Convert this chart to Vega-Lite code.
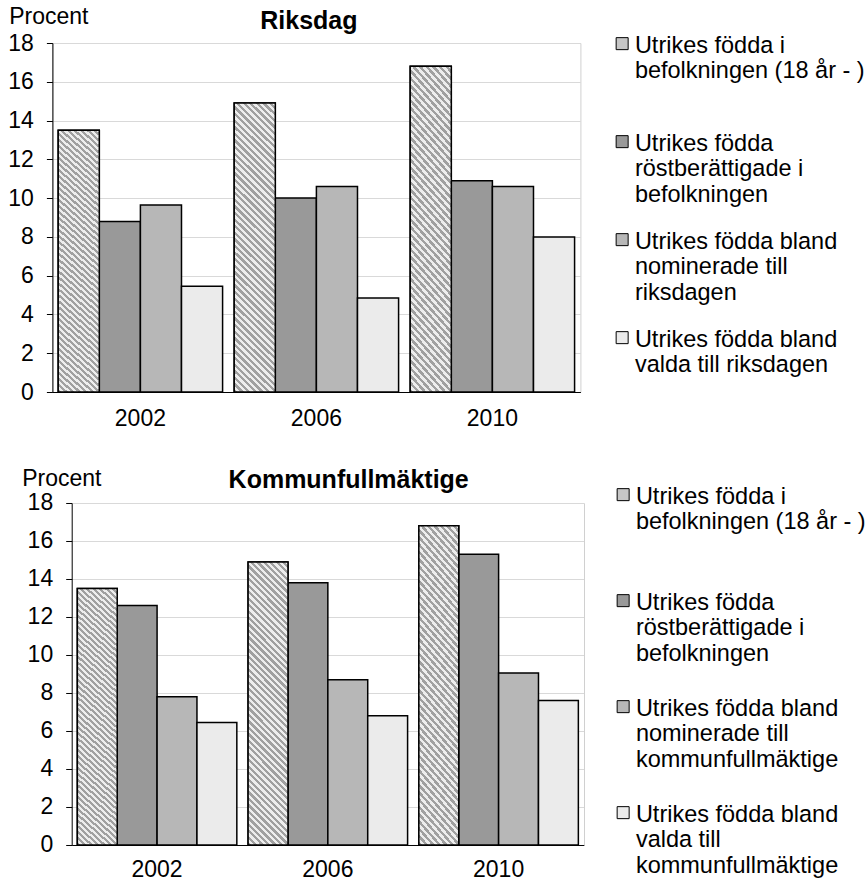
{
  "$schema": "https://vega.github.io/schema/vega-lite/v6.json",
  "padding": {"left": 6.4, "top": 5, "right": 0, "bottom": 0},
  "spacing": 36,
  "datasets": {
    "riksdag": [
      {"year": "2002", "serie": "Utrikes födda i befolkningen (18 år - )", "procent": 13.5},
      {"year": "2002", "serie": "Utrikes födda röstberättigade i befolkningen", "procent": 8.8},
      {"year": "2002", "serie": "Utrikes födda bland nominerade till riksdagen", "procent": 9.65},
      {"year": "2002", "serie": "Utrikes födda bland valda till riksdagen", "procent": 5.45},
      {"year": "2006", "serie": "Utrikes födda i befolkningen (18 år - )", "procent": 14.9},
      {"year": "2006", "serie": "Utrikes födda röstberättigade i befolkningen", "procent": 10.0},
      {"year": "2006", "serie": "Utrikes födda bland nominerade till riksdagen", "procent": 10.6},
      {"year": "2006", "serie": "Utrikes födda bland valda till riksdagen", "procent": 4.85},
      {"year": "2010", "serie": "Utrikes födda i befolkningen (18 år - )", "procent": 16.8},
      {"year": "2010", "serie": "Utrikes födda röstberättigade i befolkningen", "procent": 10.9},
      {"year": "2010", "serie": "Utrikes födda bland nominerade till riksdagen", "procent": 10.6},
      {"year": "2010", "serie": "Utrikes födda bland valda till riksdagen", "procent": 8.0}
    ],
    "kommun": [
      {"year": "2002", "serie": "Utrikes födda i befolkningen (18 år - )", "procent": 13.5},
      {"year": "2002", "serie": "Utrikes födda röstberättigade i befolkningen", "procent": 12.6},
      {"year": "2002", "serie": "Utrikes födda bland nominerade till kommunfullmäktige", "procent": 7.8},
      {"year": "2002", "serie": "Utrikes födda bland valda till kommunfullmäktige", "procent": 6.45},
      {"year": "2006", "serie": "Utrikes födda i befolkningen (18 år - )", "procent": 14.9},
      {"year": "2006", "serie": "Utrikes födda röstberättigade i befolkningen", "procent": 13.8},
      {"year": "2006", "serie": "Utrikes födda bland nominerade till kommunfullmäktige", "procent": 8.7},
      {"year": "2006", "serie": "Utrikes födda bland valda till kommunfullmäktige", "procent": 6.8},
      {"year": "2010", "serie": "Utrikes födda i befolkningen (18 år - )", "procent": 16.8},
      {"year": "2010", "serie": "Utrikes födda röstberättigade i befolkningen", "procent": 15.3},
      {"year": "2010", "serie": "Utrikes födda bland nominerade till kommunfullmäktige", "procent": 9.05},
      {"year": "2010", "serie": "Utrikes födda bland valda till kommunfullmäktige", "procent": 7.6}
    ]
  },
  "vconcat": [
    {
      "width": 528,
      "height": 349,
      "title": {"text": "Riksdag", "frame": "group", "anchor": "middle", "dx": -7.5, "offset": -28},
      "data": {"name": "riksdag"},
      "encoding": {
        "x": {"field": "year", "type": "nominal", "scale": {"paddingInner": 0.066, "paddingOuter": 0.033},
              "axis": {"title": null, "labelAngle": 0, "ticks": false, "labelPadding": 15}},
        "xOffset": {"field": "serie", "type": "nominal", "sort": null,
                    "scale": {"domain": ["Utrikes födda i befolkningen (18 år - )", "Utrikes födda röstberättigade i befolkningen", "Utrikes födda bland nominerade till riksdagen", "Utrikes födda bland valda till riksdagen"], "paddingInner": 0, "paddingOuter": 0}},
        "y": {"field": "procent", "type": "quantitative", "stack": null, "scale": {"domain": [0, 18], "nice": false},
              "axis": {"title": "Procent", "titleAngle": 0, "titleAlign": "left", "titleBaseline": "middle", "titleX": -43.7, "titleY": -26.5,
                       "values": [0, 2, 4, 6, 8, 10, 12, 14, 16, 18], "tickSize": 6, "labelPadding": 13}}
      },
      "layer": [
        {
          "mark": {"type": "bar", "stroke": "#000000", "strokeWidth": 1.5},
          "encoding": {
            "color": {"field": "serie", "type": "nominal",
                      "scale": {"domain": ["Utrikes födda i befolkningen (18 år - )", "Utrikes födda röstberättigade i befolkningen", "Utrikes födda bland nominerade till riksdagen", "Utrikes födda bland valda till riksdagen"],
                                "range": ["#c6c6c6", "#999999", "#b7b7b7", "#ebebeb"]},
                      "legend": {"title": null, "orient": "none", "legendX": 558, "legendY": -21, "rowPadding": 11,
                                 "labelExpr": "datum.label == 'Utrikes födda i befolkningen (18 år - )' ? ['Utrikes födda i', 'befolkningen (18 år - )'] : datum.label == 'Utrikes födda röstberättigade i befolkningen' ? ['Utrikes födda', 'röstberättigade i', 'befolkningen'] : datum.label == 'Utrikes födda bland nominerade till riksdagen' ? ['Utrikes födda bland', 'nominerade till', 'riksdagen'] : ['Utrikes födda bland', 'valda till riksdagen']"}}
          }
        },
        {
          "transform": [{"filter": {"field": "serie", "equal": "Utrikes födda i befolkningen (18 år - )"}}],
          "mark": {"type": "bar", "stroke": "#000000", "strokeWidth": 1.5}
        }
      ]
    },
    {
      "width": 531.6,
      "height": 342,
      "view": {"stroke": null},
      "title": {"text": "Kommunfullmäktige", "frame": "group", "anchor": "middle", "dx": 30.5, "offset": -26},
      "data": {"name": "kommun"},
      "encoding": {
        "x": {"field": "year", "type": "nominal", "scale": {"range": [19.3, 531.6], "paddingInner": 0.066, "paddingOuter": 0.033},
              "axis": {"title": null, "labelAngle": 0, "ticks": false, "labelPadding": 14}},
        "xOffset": {"field": "serie", "type": "nominal", "sort": null,
                    "scale": {"domain": ["Utrikes födda i befolkningen (18 år - )", "Utrikes födda röstberättigade i befolkningen", "Utrikes födda bland nominerade till kommunfullmäktige", "Utrikes födda bland valda till kommunfullmäktige"], "paddingInner": 0, "paddingOuter": 0}},
        "y": {"field": "procent", "type": "quantitative", "stack": null, "scale": {"domain": [0, 18], "nice": false},
              "axis": {"title": "Procent", "offset": -19.3, "titleAngle": 0, "titleAlign": "left", "titleBaseline": "middle", "titleX": -50, "titleY": -24.5,
                       "values": [0, 2, 4, 6, 8, 10, 12, 14, 16, 18], "tickSize": 6, "labelPadding": 13}}
      },
      "layer": [
        {
          "mark": {"type": "bar", "stroke": "#000000", "strokeWidth": 1.5},
          "encoding": {
            "color": {"field": "serie", "type": "nominal",
                      "scale": {"domain": ["Utrikes födda i befolkningen (18 år - )", "Utrikes födda röstberättigade i befolkningen", "Utrikes födda bland nominerade till kommunfullmäktige", "Utrikes födda bland valda till kommunfullmäktige"],
                                "range": ["#c6c6c6", "#999999", "#b7b7b7", "#ebebeb"]},
                      "legend": {"title": null, "orient": "none", "legendX": 559, "legendY": -30, "rowPadding": 19,
                                 "labelExpr": "datum.label == 'Utrikes födda i befolkningen (18 år - )' ? ['Utrikes födda i', 'befolkningen (18 år - )'] : datum.label == 'Utrikes födda röstberättigade i befolkningen' ? ['Utrikes födda', 'röstberättigade i', 'befolkningen'] : datum.label == 'Utrikes födda bland nominerade till kommunfullmäktige' ? ['Utrikes födda bland', 'nominerade till', 'kommunfullmäktige'] : ['Utrikes födda bland', 'valda till', 'kommunfullmäktige']"}}
          }
        },
        {
          "transform": [{"filter": {"field": "serie", "equal": "Utrikes födda i befolkningen (18 år - )"}}],
          "mark": {"type": "bar", "stroke": "#000000", "strokeWidth": 1.5},
          "encoding": {
            "y": {"field": "procent", "type": "quantitative", "stack": null, "scale": {"domain": [0, 18], "nice": false},
                  "axis": {"orient": "right", "title": null, "labels": false, "ticks": false, "grid": false, "domainColor": "#d0d0d0"}}
          }
        }
      ],
      "resolve": {"axis": {"y": "independent"}}
    }
  ],
  "resolve": {"scale": {"x": "independent", "xOffset": "independent", "y": "independent", "color": "independent"}, "legend": {"color": "independent"}},
  "config": {
    "font": "Liberation Sans",
    "view": {"stroke": "#d0d0d0", "strokeWidth": 1},
    "axis": {"labelFont": "Liberation Sans", "labelFontSize": 23, "labelColor": "#000000", "titleFont": "Liberation Sans", "titleFontSize": 23, "titleFontWeight": "normal", "titleColor": "#000000", "domainColor": "#000000", "domainWidth": 1, "tickColor": "#000000", "gridColor": "#d9d9d9"},
    "title": {"font": "Liberation Sans", "fontSize": 25, "fontWeight": "bold", "color": "#000000"},
    "legend": {"labelFont": "Liberation Sans", "labelFontSize": 23.5, "labelColor": "#000000", "labelBaseline": "top", "labelLimit": 400, "labelOffset": 1, "padding": 0, "gridAlign": "all", "symbolType": "M-1,0.65H1V2.65H-1Z", "symbolSize": 144, "symbolStrokeColor": "#000000", "symbolStrokeWidth": 1, "symbolOpacity": 1},
    "bar": {"fill": {"gradient": "linear", "x1": 0, "y1": 1, "x2": 0.158, "y2": -0.119, "stops": [
      {"offset": 0, "color": "#a0a0a0"},
      {"offset": 0.01, "color": "#a0a0a0"}, {"offset": 0.01, "color": "#ededed"},
      {"offset": 0.02, "color": "#ededed"}, {"offset": 0.02, "color": "#a0a0a0"},
      {"offset": 0.03, "color": "#a0a0a0"}, {"offset": 0.03, "color": "#ededed"},
      {"offset": 0.04, "color": "#ededed"}, {"offset": 0.04, "color": "#a0a0a0"},
      {"offset": 0.05, "color": "#a0a0a0"}, {"offset": 0.05, "color": "#ededed"},
      {"offset": 0.06, "color": "#ededed"}, {"offset": 0.06, "color": "#a0a0a0"},
      {"offset": 0.07, "color": "#a0a0a0"}, {"offset": 0.07, "color": "#ededed"},
      {"offset": 0.08, "color": "#ededed"}, {"offset": 0.08, "color": "#a0a0a0"},
      {"offset": 0.09, "color": "#a0a0a0"}, {"offset": 0.09, "color": "#ededed"},
      {"offset": 0.10, "color": "#ededed"}, {"offset": 0.10, "color": "#a0a0a0"},
      {"offset": 0.11, "color": "#a0a0a0"}, {"offset": 0.11, "color": "#ededed"},
      {"offset": 0.12, "color": "#ededed"}, {"offset": 0.12, "color": "#a0a0a0"},
      {"offset": 0.13, "color": "#a0a0a0"}, {"offset": 0.13, "color": "#ededed"},
      {"offset": 0.14, "color": "#ededed"}, {"offset": 0.14, "color": "#a0a0a0"},
      {"offset": 0.15, "color": "#a0a0a0"}, {"offset": 0.15, "color": "#ededed"},
      {"offset": 0.16, "color": "#ededed"}, {"offset": 0.16, "color": "#a0a0a0"},
      {"offset": 0.17, "color": "#a0a0a0"}, {"offset": 0.17, "color": "#ededed"},
      {"offset": 0.18, "color": "#ededed"}, {"offset": 0.18, "color": "#a0a0a0"},
      {"offset": 0.19, "color": "#a0a0a0"}, {"offset": 0.19, "color": "#ededed"},
      {"offset": 0.20, "color": "#ededed"}, {"offset": 0.20, "color": "#a0a0a0"},
      {"offset": 0.21, "color": "#a0a0a0"}, {"offset": 0.21, "color": "#ededed"},
      {"offset": 0.22, "color": "#ededed"}, {"offset": 0.22, "color": "#a0a0a0"},
      {"offset": 0.23, "color": "#a0a0a0"}, {"offset": 0.23, "color": "#ededed"},
      {"offset": 0.24, "color": "#ededed"}, {"offset": 0.24, "color": "#a0a0a0"},
      {"offset": 0.25, "color": "#a0a0a0"}, {"offset": 0.25, "color": "#ededed"},
      {"offset": 0.26, "color": "#ededed"}, {"offset": 0.26, "color": "#a0a0a0"},
      {"offset": 0.27, "color": "#a0a0a0"}, {"offset": 0.27, "color": "#ededed"},
      {"offset": 0.28, "color": "#ededed"}, {"offset": 0.28, "color": "#a0a0a0"},
      {"offset": 0.29, "color": "#a0a0a0"}, {"offset": 0.29, "color": "#ededed"},
      {"offset": 0.30, "color": "#ededed"}, {"offset": 0.30, "color": "#a0a0a0"},
      {"offset": 0.31, "color": "#a0a0a0"}, {"offset": 0.31, "color": "#ededed"},
      {"offset": 0.32, "color": "#ededed"}, {"offset": 0.32, "color": "#a0a0a0"},
      {"offset": 0.33, "color": "#a0a0a0"}, {"offset": 0.33, "color": "#ededed"},
      {"offset": 0.34, "color": "#ededed"}, {"offset": 0.34, "color": "#a0a0a0"},
      {"offset": 0.35, "color": "#a0a0a0"}, {"offset": 0.35, "color": "#ededed"},
      {"offset": 0.36, "color": "#ededed"}, {"offset": 0.36, "color": "#a0a0a0"},
      {"offset": 0.37, "color": "#a0a0a0"}, {"offset": 0.37, "color": "#ededed"},
      {"offset": 0.38, "color": "#ededed"}, {"offset": 0.38, "color": "#a0a0a0"},
      {"offset": 0.39, "color": "#a0a0a0"}, {"offset": 0.39, "color": "#ededed"},
      {"offset": 0.40, "color": "#ededed"}, {"offset": 0.40, "color": "#a0a0a0"},
      {"offset": 0.41, "color": "#a0a0a0"}, {"offset": 0.41, "color": "#ededed"},
      {"offset": 0.42, "color": "#ededed"}, {"offset": 0.42, "color": "#a0a0a0"},
      {"offset": 0.43, "color": "#a0a0a0"}, {"offset": 0.43, "color": "#ededed"},
      {"offset": 0.44, "color": "#ededed"}, {"offset": 0.44, "color": "#a0a0a0"},
      {"offset": 0.45, "color": "#a0a0a0"}, {"offset": 0.45, "color": "#ededed"},
      {"offset": 0.46, "color": "#ededed"}, {"offset": 0.46, "color": "#a0a0a0"},
      {"offset": 0.47, "color": "#a0a0a0"}, {"offset": 0.47, "color": "#ededed"},
      {"offset": 0.48, "color": "#ededed"}, {"offset": 0.48, "color": "#a0a0a0"},
      {"offset": 0.49, "color": "#a0a0a0"}, {"offset": 0.49, "color": "#ededed"},
      {"offset": 0.50, "color": "#ededed"}, {"offset": 0.50, "color": "#a0a0a0"},
      {"offset": 0.51, "color": "#a0a0a0"}, {"offset": 0.51, "color": "#ededed"},
      {"offset": 0.52, "color": "#ededed"}, {"offset": 0.52, "color": "#a0a0a0"},
      {"offset": 0.53, "color": "#a0a0a0"}, {"offset": 0.53, "color": "#ededed"},
      {"offset": 0.54, "color": "#ededed"}, {"offset": 0.54, "color": "#a0a0a0"},
      {"offset": 0.55, "color": "#a0a0a0"}, {"offset": 0.55, "color": "#ededed"},
      {"offset": 0.56, "color": "#ededed"}, {"offset": 0.56, "color": "#a0a0a0"},
      {"offset": 0.57, "color": "#a0a0a0"}, {"offset": 0.57, "color": "#ededed"},
      {"offset": 0.58, "color": "#ededed"}, {"offset": 0.58, "color": "#a0a0a0"},
      {"offset": 0.59, "color": "#a0a0a0"}, {"offset": 0.59, "color": "#ededed"},
      {"offset": 0.60, "color": "#ededed"}, {"offset": 0.60, "color": "#a0a0a0"},
      {"offset": 0.61, "color": "#a0a0a0"}, {"offset": 0.61, "color": "#ededed"},
      {"offset": 0.62, "color": "#ededed"}, {"offset": 0.62, "color": "#a0a0a0"},
      {"offset": 0.63, "color": "#a0a0a0"}, {"offset": 0.63, "color": "#ededed"},
      {"offset": 0.64, "color": "#ededed"}, {"offset": 0.64, "color": "#a0a0a0"},
      {"offset": 0.65, "color": "#a0a0a0"}, {"offset": 0.65, "color": "#ededed"},
      {"offset": 0.66, "color": "#ededed"}, {"offset": 0.66, "color": "#a0a0a0"},
      {"offset": 0.67, "color": "#a0a0a0"}, {"offset": 0.67, "color": "#ededed"},
      {"offset": 0.68, "color": "#ededed"}, {"offset": 0.68, "color": "#a0a0a0"},
      {"offset": 0.69, "color": "#a0a0a0"}, {"offset": 0.69, "color": "#ededed"},
      {"offset": 0.70, "color": "#ededed"}, {"offset": 0.70, "color": "#a0a0a0"},
      {"offset": 0.71, "color": "#a0a0a0"}, {"offset": 0.71, "color": "#ededed"},
      {"offset": 0.72, "color": "#ededed"}, {"offset": 0.72, "color": "#a0a0a0"},
      {"offset": 0.73, "color": "#a0a0a0"}, {"offset": 0.73, "color": "#ededed"},
      {"offset": 0.74, "color": "#ededed"}, {"offset": 0.74, "color": "#a0a0a0"},
      {"offset": 0.75, "color": "#a0a0a0"}, {"offset": 0.75, "color": "#ededed"},
      {"offset": 0.76, "color": "#ededed"}, {"offset": 0.76, "color": "#a0a0a0"},
      {"offset": 0.77, "color": "#a0a0a0"}, {"offset": 0.77, "color": "#ededed"},
      {"offset": 0.78, "color": "#ededed"}, {"offset": 0.78, "color": "#a0a0a0"},
      {"offset": 0.79, "color": "#a0a0a0"}, {"offset": 0.79, "color": "#ededed"},
      {"offset": 0.80, "color": "#ededed"}, {"offset": 0.80, "color": "#a0a0a0"},
      {"offset": 0.81, "color": "#a0a0a0"}, {"offset": 0.81, "color": "#ededed"},
      {"offset": 0.82, "color": "#ededed"}, {"offset": 0.82, "color": "#a0a0a0"},
      {"offset": 0.83, "color": "#a0a0a0"}, {"offset": 0.83, "color": "#ededed"},
      {"offset": 0.84, "color": "#ededed"}, {"offset": 0.84, "color": "#a0a0a0"},
      {"offset": 0.85, "color": "#a0a0a0"}, {"offset": 0.85, "color": "#ededed"},
      {"offset": 0.86, "color": "#ededed"}, {"offset": 0.86, "color": "#a0a0a0"},
      {"offset": 0.87, "color": "#a0a0a0"}, {"offset": 0.87, "color": "#ededed"},
      {"offset": 0.88, "color": "#ededed"}, {"offset": 0.88, "color": "#a0a0a0"},
      {"offset": 0.89, "color": "#a0a0a0"}, {"offset": 0.89, "color": "#ededed"},
      {"offset": 0.90, "color": "#ededed"}, {"offset": 0.90, "color": "#a0a0a0"},
      {"offset": 0.91, "color": "#a0a0a0"}, {"offset": 0.91, "color": "#ededed"},
      {"offset": 0.92, "color": "#ededed"}, {"offset": 0.92, "color": "#a0a0a0"},
      {"offset": 0.93, "color": "#a0a0a0"}, {"offset": 0.93, "color": "#ededed"},
      {"offset": 0.94, "color": "#ededed"}, {"offset": 0.94, "color": "#a0a0a0"},
      {"offset": 0.95, "color": "#a0a0a0"}, {"offset": 0.95, "color": "#ededed"},
      {"offset": 0.96, "color": "#ededed"}, {"offset": 0.96, "color": "#a0a0a0"},
      {"offset": 0.97, "color": "#a0a0a0"}, {"offset": 0.97, "color": "#ededed"},
      {"offset": 0.98, "color": "#ededed"}, {"offset": 0.98, "color": "#a0a0a0"},
      {"offset": 0.99, "color": "#a0a0a0"}, {"offset": 0.99, "color": "#ededed"},
      {"offset": 1, "color": "#ededed"}
    ]}}
  }
}
